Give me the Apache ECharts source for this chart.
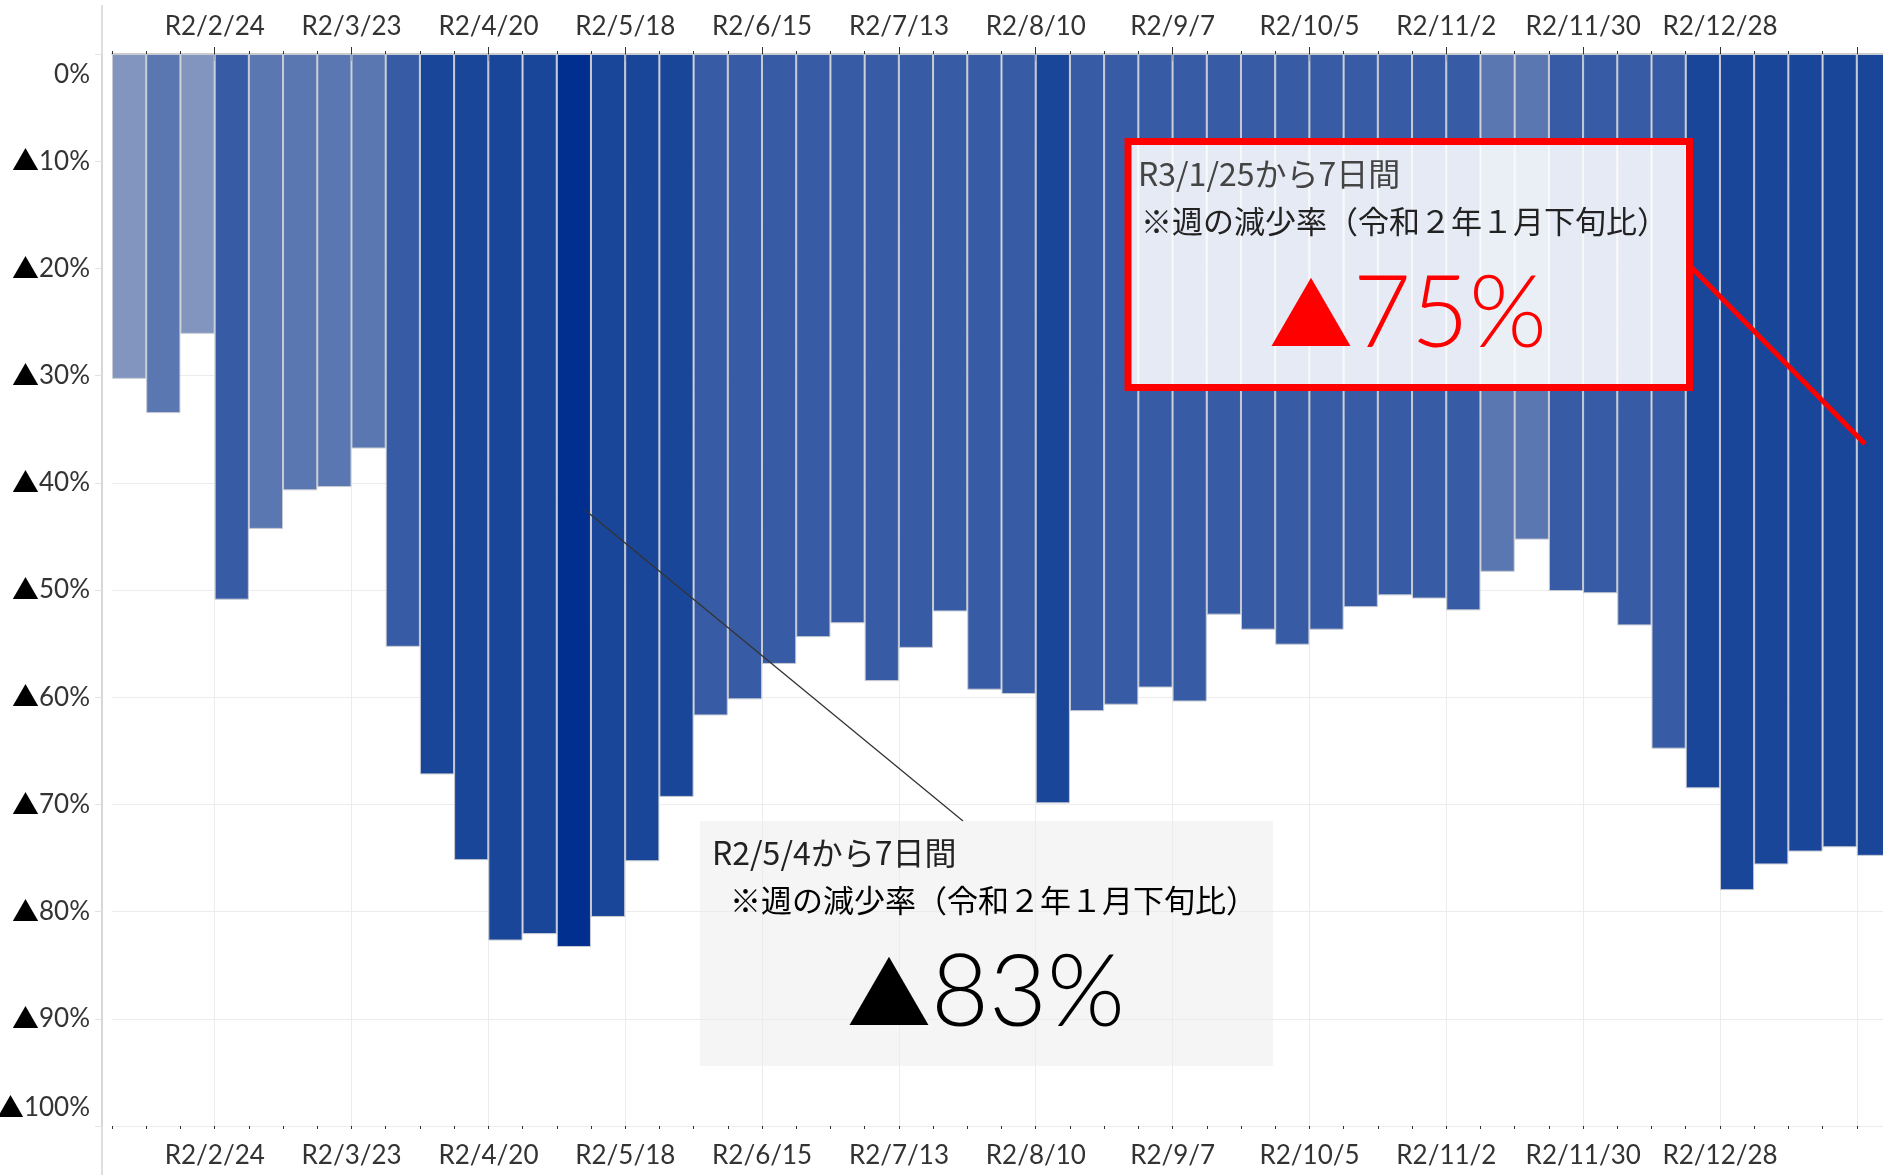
<!DOCTYPE html>
<html>
<head>
<meta charset="utf-8">
<script src="https://cdn.jsdelivr.net/npm/echarts@6/dist/echarts.min.js"></script>
<style>
  html, body { margin: 0; padding: 0; background: #fff; }
  #chart { width: 1883px; height: 1175px; }
</style>
</head>
<body>
<div id="chart"></div>
<script>
// week start dates (Reiwa era)
const weeks = [
  'R2/2/3', 'R2/2/10', 'R2/2/17', 'R2/2/24', 'R2/3/2', 'R2/3/9', 'R2/3/16', 'R2/3/23',
  'R2/3/30', 'R2/4/6', 'R2/4/13', 'R2/4/20', 'R2/4/27', 'R2/5/4', 'R2/5/11', 'R2/5/18',
  'R2/5/25', 'R2/6/1', 'R2/6/8', 'R2/6/15', 'R2/6/22', 'R2/6/29', 'R2/7/6', 'R2/7/13',
  'R2/7/20', 'R2/7/27', 'R2/8/3', 'R2/8/10', 'R2/8/17', 'R2/8/24', 'R2/8/31', 'R2/9/7',
  'R2/9/14', 'R2/9/21', 'R2/9/28', 'R2/10/5', 'R2/10/12', 'R2/10/19', 'R2/10/26', 'R2/11/2',
  'R2/11/9', 'R2/11/16', 'R2/11/23', 'R2/11/30', 'R2/12/7', 'R2/12/14', 'R2/12/21', 'R2/12/28',
  'R3/1/4', 'R3/1/11', 'R3/1/18', 'R3/1/25'
]

// weekly decrease rate vs late Jan 2020 (%)
const decline = [
  30.3, 33.5, 26.1, 50.9, 44.3, 40.7, 40.4, 36.8,
  55.3, 67.2, 75.2, 82.7, 82.1, 83.3, 80.5, 75.3,
  69.3, 61.7, 60.2, 56.9, 54.4, 53.1, 58.5, 55.4,
  52.0, 59.3, 59.7, 69.9, 61.3, 60.7, 59.1, 60.4,
  52.3, 53.7, 55.1, 53.7, 51.6, 50.5, 50.8, 51.9,
  48.3, 45.3, 50.1, 50.3, 53.3, 64.8, 68.5, 78.0,
  75.6, 74.4, 74.0, 74.8
]

// stepped colour bands
const colorSteps = [
  { lt: 32, color: '#8195bf' },
  { gte: 32, lt: 49.5, color: '#5a77b2' },
  { gte: 49.5, lt: 66, color: '#375ca5' },
  { gte: 66, lt: 83, color: '#1a4699' },
  { gte: 83, color: '#002f8f' }
]

const noteLines = ['R3/1/25から7日間', 'R2/5/4から7日間', '※週の減少率（令和２年１月下旬比）']
const noteValues = ['75%', '83%']

const LATIN = 'Lato, "Noto Sans CJK JP", sans-serif'
const CJK = '"Noto Sans CJK JP", sans-serif'

const majorEvery = (i) => i % 4 === 3
const labelEvery = (i) => i % 4 === 3 && i < weeks.length - 1

const mainX = (pos, margin) => ({
  type: 'category',
  position: pos,
  data: weeks,
  boundaryGap: true,
  axisLine: { show: true, lineStyle: { color: '#c8c8c8', width: 1.5 } },
  axisTick: { show: true, interval: majorEvery, length: 7, lineStyle: { color: '#333', width: 1 } },
  axisLabel: {
    interval: labelEvery,
    color: '#333',
    fontFamily: LATIN,
    fontSize: 26,
    margin: margin,
    padding: [0, 34, 0, 0]
  },
  splitLine: { show: pos === 'bottom', interval: majorEvery, lineStyle: { color: '#ececec', width: 1 } }
})

const minorX = (pos) => ({
  type: 'category',
  position: pos,
  data: weeks,
  boundaryGap: true,
  axisLine: { show: false },
  axisTick: { show: true, interval: 0, length: 3, lineStyle: { color: '#333', width: 1 } },
  axisLabel: { show: false },
  splitLine: { show: false }
})

const labelText = { color: '#333', fontFamily: LATIN, fontSize: 26 }
const labelTri = { color: '#000', fontFamily: CJK, fontSize: 27 }

const chart = echarts.init(document.getElementById('chart'), null, { renderer: 'canvas' })

chart.setOption({
  animation: false,
  backgroundColor: '#fff',
  grid: {
    left: 112, top: 54, width: 1779, height: 1072,
    containLabel: false, outerBoundsMode: 'none'
  },
  xAxis: [mainX('bottom', 17), mainX('top', 14), minorX('bottom'), minorX('top')],
  yAxis: {
    type: 'value',
    inverse: true,
    min: 0,
    max: 100,
    interval: 10,
    offset: 10,
    axisLine: { show: true, lineStyle: { color: '#d4d4d4', width: 1.5 } },
    axisTick: { show: true, length: 7, lineStyle: { color: '#e2e2e2' } },
    splitLine: { show: true, lineStyle: { color: '#ececec', width: 1 } },
    axisLabel: {
      margin: 12,
      formatter: (v) => {
        if (v === 0) return '{top|0%}'
        if (v === 100) return '{triB|▲}{bot|100%}'
        return '{tri|▲}{num|' + v + '%}'
      },
      rich: {
        num: labelText,
        tri: labelTri,
        top: Object.assign({}, labelText, { padding: [42, 0, 0, 0] }),
        bot: Object.assign({}, labelText, { padding: [0, 0, 36, 0] }),
        triB: Object.assign({}, labelTri, { padding: [0, 0, 36, 0] })
      }
    }
  },
  visualMap: {
    type: 'piecewise',
    show: false,
    seriesIndex: 0,
    pieces: colorSteps
  },
  series: [{
    type: 'bar',
    xAxisIndex: 0,
    barWidth: '100%',
    data: decline,
    itemStyle: { borderColor: '#c6cad2', borderWidth: 1 }
  }],
  graphic: [
    // y pane border runs full height
    { type: 'line', z: 0, silent: true, shape: { x1: 102, y1: 5, x2: 102, y2: 1175 },
      style: { stroke: '#d4d4d4', lineWidth: 1.5 } },

    // latest week callout
    { type: 'line', z: 100, shape: { x1: 1691, y1: 267, x2: 1865, y2: 444 },
      style: { stroke: '#ff0000', lineWidth: 5 } },
    { type: 'rect', z: 101, shape: { x: 1128, y: 141.5, width: 561.5, height: 246 },
      style: { fill: 'rgba(255,255,255,0.875)', stroke: '#ff0000', lineWidth: 7 } },
    { type: 'text', z: 102, left: 1138, top: 158,
      style: { text: noteLines[0], fill: '#444', font: '32px ' + CJK } },
    { type: 'text', z: 102, left: 1141, top: 206,
      style: { text: noteLines[2], fill: '#222', font: '31px ' + CJK } },
    { type: 'text', z: 102, x: 1408, y: 315,
      style: {
        text: '{t|▲}{v|' + noteValues[0] + '}',
        align: 'center', verticalAlign: 'middle',
        rich: {
          t: { fill: '#ff0000', fontFamily: CJK, fontSize: 84 },
          v: { fill: '#ff0000', fontFamily: LATIN, fontWeight: 300, fontSize: 100 }
        }
      } },

    // trough callout
    { type: 'line', z: 100, shape: { x1: 585, y1: 510, x2: 963, y2: 821 },
      style: { stroke: '#333', lineWidth: 1.3 } },
    { type: 'rect', z: 101, shape: { x: 700, y: 821, width: 573, height: 245 },
      style: { fill: 'rgba(235,235,235,0.5)' } },
    { type: 'text', z: 102, left: 712, top: 837,
      style: { text: noteLines[1], fill: '#222', font: '32px ' + CJK } },
    { type: 'text', z: 102, left: 730, top: 885,
      style: { text: noteLines[2], fill: '#000', font: '31px ' + CJK } },
    { type: 'text', z: 102, x: 986, y: 994,
      style: {
        text: '{t|▲}{v|' + noteValues[1] + '}',
        align: 'center', verticalAlign: 'middle',
        rich: {
          t: { fill: '#000', fontFamily: CJK, fontSize: 84 },
          v: { fill: '#000', fontFamily: LATIN, fontWeight: 300, fontSize: 100 }
        }
      } }
  ]
})

window.addEventListener('resize', () => chart.resize())
</script>
</body>
</html>
